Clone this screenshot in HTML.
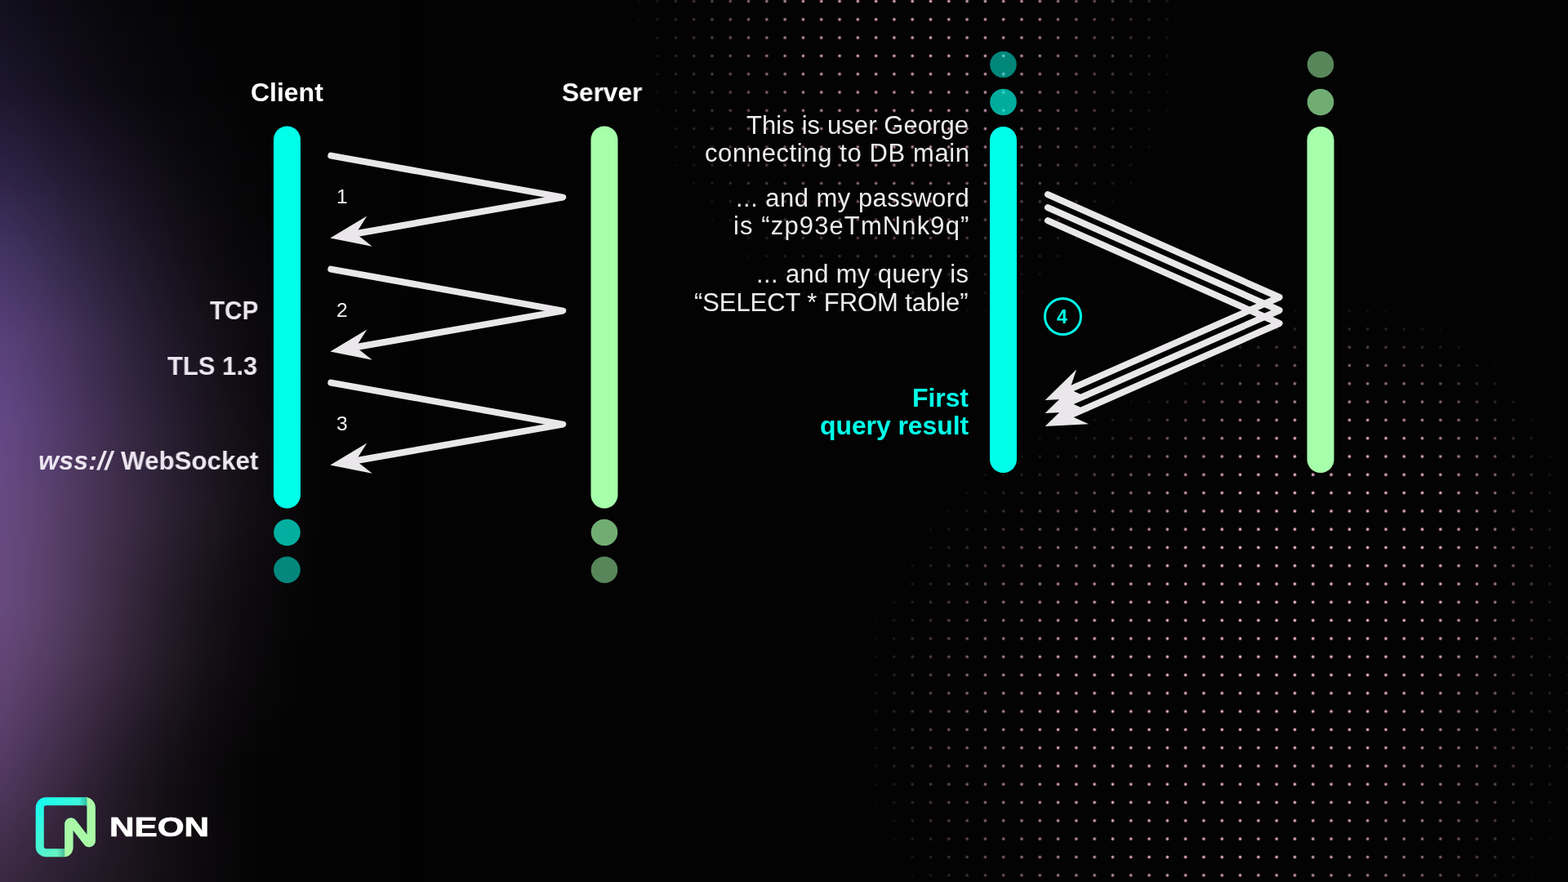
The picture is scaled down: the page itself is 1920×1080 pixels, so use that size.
<!DOCTYPE html>
<html lang="en">
<head>
<meta charset="utf-8">
<title>Neon – connection round trips</title>
<style>
html,body{margin:0;padding:0;background:#030303;}
body{width:1920px;height:1080px;overflow:hidden;position:relative;font-family:"Liberation Sans",sans-serif;}
#stage{position:absolute;left:0;top:0;width:1920px;height:1080px;overflow:hidden;background:#030303;}
#glow{position:absolute;left:-60px;top:-60px;width:560px;height:1200px;filter:blur(9px);}
#glow i{display:block;height:20px;width:560px;}
.dots{position:absolute;inset:0;
  background-image:radial-gradient(circle, rgba(253,224,240,1) 0px, rgba(246,198,224,1) 0.9px, rgba(228,135,185,.55) 1.7px, rgba(205,105,165,0) 2.6px);
  background-size:22.303px 22.303px;background-position:-8.77px -9.61px;}
#dotsA{-webkit-mask-image:radial-gradient(ellipse 345px 400px at 1115px 10px, rgba(0,0,0,.9) 0%, rgba(0,0,0,.78) 40%, rgba(0,0,0,.32) 72%, rgba(0,0,0,0) 100%);mask-image:radial-gradient(ellipse 345px 400px at 1115px 10px, rgba(0,0,0,.9) 0%, rgba(0,0,0,.78) 40%, rgba(0,0,0,.32) 72%, rgba(0,0,0,0) 100%);}
#dotsB{-webkit-mask-image:radial-gradient(ellipse 450px 410px at 1495px 875px, rgba(0,0,0,.95) 0%, rgba(0,0,0,.9) 45%, rgba(0,0,0,.55) 70%, rgba(0,0,0,.2) 87%, rgba(0,0,0,0) 100%),radial-gradient(ellipse 285px 285px at 1640px 650px, rgba(0,0,0,.95) 0%, rgba(0,0,0,.9) 45%, rgba(0,0,0,.55) 70%, rgba(0,0,0,.2) 87%, rgba(0,0,0,0) 100%);mask-image:radial-gradient(ellipse 450px 410px at 1495px 875px, rgba(0,0,0,.95) 0%, rgba(0,0,0,.9) 45%, rgba(0,0,0,.55) 70%, rgba(0,0,0,.2) 87%, rgba(0,0,0,0) 100%),radial-gradient(ellipse 285px 285px at 1640px 650px, rgba(0,0,0,.95) 0%, rgba(0,0,0,.9) 45%, rgba(0,0,0,.55) 70%, rgba(0,0,0,.2) 87%, rgba(0,0,0,0) 100%);}
svg#art{position:absolute;left:0;top:0;}
.t{position:absolute;white-space:nowrap;line-height:1;margin:0;will-change:transform;}
.r{text-align:right;}
.b{font-weight:bold;}
.lab{color:#ece6f0;font-size:32px;font-weight:bold;}
.msg{color:#ececec;font-size:31px;}
.num{color:#f4f4f4;font-size:24.5px;}
.cy{color:#00ffe8;}
</style>
</head>
<body>
<div id="stage">
  <div id="glow"><i style="background:linear-gradient(90deg,rgb(18,15,30) 60px,rgb(14,12,23) 110px,rgb(10,9,15) 160px,rgb(7,6,10) 210px,rgb(5,5,6) 260px,rgb(4,4,5) 310px,rgb(3,3,3) 360px,rgb(3,3,3) 410px,rgb(3,3,3) 460px)"></i><i style="background:linear-gradient(90deg,rgb(18,15,30) 60px,rgb(14,12,23) 110px,rgb(10,9,15) 160px,rgb(7,6,10) 210px,rgb(5,5,6) 260px,rgb(4,4,5) 310px,rgb(3,3,3) 360px,rgb(3,3,3) 410px,rgb(3,3,3) 460px)"></i><i style="background:linear-gradient(90deg,rgb(18,15,30) 60px,rgb(14,12,23) 110px,rgb(10,9,15) 160px,rgb(7,6,10) 210px,rgb(5,5,6) 260px,rgb(4,4,5) 310px,rgb(3,3,3) 360px,rgb(3,3,3) 410px,rgb(3,3,3) 460px)"></i><i style="background:linear-gradient(90deg,rgb(19,16,31) 60px,rgb(15,12,24) 110px,rgb(11,9,16) 160px,rgb(7,7,10) 210px,rgb(5,5,7) 260px,rgb(4,4,5) 310px,rgb(3,3,3) 360px,rgb(3,3,3) 410px,rgb(3,3,3) 460px)"></i><i style="background:linear-gradient(90deg,rgb(21,17,34) 60px,rgb(16,13,26) 110px,rgb(12,10,18) 160px,rgb(8,7,12) 210px,rgb(6,5,7) 260px,rgb(4,4,5) 310px,rgb(3,3,3) 360px,rgb(3,3,3) 410px,rgb(3,3,3) 460px)"></i><i style="background:linear-gradient(90deg,rgb(23,18,37) 60px,rgb(18,15,28) 110px,rgb(13,11,19) 160px,rgb(9,8,13) 210px,rgb(6,5,8) 260px,rgb(4,4,5) 310px,rgb(3,3,4) 360px,rgb(3,3,3) 410px,rgb(3,3,3) 460px)"></i><i style="background:linear-gradient(90deg,rgb(24,20,40) 60px,rgb(19,16,30) 110px,rgb(14,11,21) 160px,rgb(10,8,14) 210px,rgb(6,6,8) 260px,rgb(5,4,6) 310px,rgb(4,4,4) 360px,rgb(3,3,3) 410px,rgb(3,3,3) 460px)"></i><i style="background:linear-gradient(90deg,rgb(26,21,42) 60px,rgb(21,17,32) 110px,rgb(15,12,23) 160px,rgb(10,9,15) 210px,rgb(7,6,9) 260px,rgb(5,4,6) 310px,rgb(4,4,4) 360px,rgb(3,3,3) 410px,rgb(3,3,3) 460px)"></i><i style="background:linear-gradient(90deg,rgb(28,22,45) 60px,rgb(22,18,34) 110px,rgb(16,13,24) 160px,rgb(11,9,16) 210px,rgb(7,6,9) 260px,rgb(5,5,6) 310px,rgb(4,4,5) 360px,rgb(3,3,3) 410px,rgb(3,3,3) 460px)"></i><i style="background:linear-gradient(90deg,rgb(31,25,50) 60px,rgb(25,20,39) 110px,rgb(19,15,29) 160px,rgb(13,11,19) 210px,rgb(9,7,12) 260px,rgb(6,5,7) 310px,rgb(4,4,5) 360px,rgb(3,3,3) 410px,rgb(3,3,3) 460px)"></i><i style="background:linear-gradient(90deg,rgb(35,27,55) 60px,rgb(28,22,44) 110px,rgb(22,17,33) 160px,rgb(15,13,23) 210px,rgb(10,9,14) 260px,rgb(7,6,8) 310px,rgb(4,4,5) 360px,rgb(3,3,4) 410px,rgb(3,3,3) 460px)"></i><i style="background:linear-gradient(90deg,rgb(38,30,60) 60px,rgb(32,25,49) 110px,rgb(24,19,37) 160px,rgb(18,14,26) 210px,rgb(12,10,16) 260px,rgb(7,6,10) 310px,rgb(5,4,5) 360px,rgb(4,3,4) 410px,rgb(3,3,3) 460px)"></i><i style="background:linear-gradient(90deg,rgb(42,32,65) 60px,rgb(35,27,54) 110px,rgb(27,22,41) 160px,rgb(20,16,29) 210px,rgb(13,11,19) 260px,rgb(8,7,11) 310px,rgb(5,4,6) 360px,rgb(4,4,4) 410px,rgb(3,3,3) 460px)"></i><i style="background:linear-gradient(90deg,rgb(45,35,70) 60px,rgb(38,30,58) 110px,rgb(30,24,45) 160px,rgb(22,18,32) 210px,rgb(15,12,21) 260px,rgb(9,8,12) 310px,rgb(5,5,6) 360px,rgb(4,4,4) 410px,rgb(3,3,3) 460px)"></i><i style="background:linear-gradient(90deg,rgb(50,38,77) 60px,rgb(42,33,64) 110px,rgb(33,26,49) 160px,rgb(25,20,35) 210px,rgb(17,14,23) 260px,rgb(10,9,13) 310px,rgb(6,5,7) 360px,rgb(4,4,5) 410px,rgb(3,3,3) 460px)"></i><i style="background:linear-gradient(90deg,rgb(54,42,83) 60px,rgb(46,36,69) 110px,rgb(36,29,53) 160px,rgb(27,22,39) 210px,rgb(19,15,26) 260px,rgb(11,10,15) 310px,rgb(6,6,7) 360px,rgb(4,4,5) 410px,rgb(3,3,3) 460px)"></i><i style="background:linear-gradient(90deg,rgb(59,45,89) 60px,rgb(50,39,74) 110px,rgb(40,31,57) 160px,rgb(30,24,42) 210px,rgb(20,16,28) 260px,rgb(13,10,17) 310px,rgb(7,6,8) 360px,rgb(5,4,5) 410px,rgb(3,3,3) 460px)"></i><i style="background:linear-gradient(90deg,rgb(63,48,94) 60px,rgb(54,42,79) 110px,rgb(43,33,61) 160px,rgb(32,26,45) 210px,rgb(22,18,30) 260px,rgb(14,11,18) 310px,rgb(7,6,9) 360px,rgb(5,4,5) 410px,rgb(3,3,3) 460px)"></i><i style="background:linear-gradient(90deg,rgb(68,52,100) 60px,rgb(58,45,84) 110px,rgb(46,36,65) 160px,rgb(35,27,48) 210px,rgb(24,19,32) 260px,rgb(15,12,19) 310px,rgb(8,7,10) 360px,rgb(5,5,6) 410px,rgb(3,3,3) 460px)"></i><i style="background:linear-gradient(90deg,rgb(72,54,105) 60px,rgb(62,47,88) 110px,rgb(49,38,69) 160px,rgb(38,29,51) 210px,rgb(26,21,35) 260px,rgb(16,13,21) 310px,rgb(9,8,11) 360px,rgb(5,5,6) 410px,rgb(3,3,3) 460px)"></i><i style="background:linear-gradient(90deg,rgb(76,57,109) 60px,rgb(66,50,92) 110px,rgb(53,40,73) 160px,rgb(40,31,54) 210px,rgb(28,22,37) 260px,rgb(18,14,23) 310px,rgb(10,8,12) 360px,rgb(6,5,7) 410px,rgb(3,3,3) 460px)"></i><i style="background:linear-gradient(90deg,rgb(80,59,114) 60px,rgb(69,52,97) 110px,rgb(56,42,77) 160px,rgb(43,33,57) 210px,rgb(30,23,39) 260px,rgb(19,15,24) 310px,rgb(11,9,13) 360px,rgb(6,5,7) 410px,rgb(3,3,3) 460px)"></i><i style="background:linear-gradient(90deg,rgb(84,62,118) 60px,rgb(73,54,101) 110px,rgb(60,45,80) 160px,rgb(45,34,60) 210px,rgb(32,25,41) 260px,rgb(21,16,26) 310px,rgb(12,10,14) 360px,rgb(7,6,7) 410px,rgb(3,3,3) 460px)"></i><i style="background:linear-gradient(90deg,rgb(88,64,122) 60px,rgb(77,57,105) 110px,rgb(63,47,84) 160px,rgb(48,36,63) 210px,rgb(34,26,43) 260px,rgb(22,17,27) 310px,rgb(13,10,16) 360px,rgb(7,6,8) 410px,rgb(3,3,3) 460px)"></i><i style="background:linear-gradient(90deg,rgb(90,66,125) 60px,rgb(79,58,107) 110px,rgb(65,48,86) 160px,rgb(50,37,64) 210px,rgb(36,27,45) 260px,rgb(23,18,29) 310px,rgb(14,11,16) 360px,rgb(7,6,8) 410px,rgb(3,3,3) 460px)"></i><i style="background:linear-gradient(90deg,rgb(93,67,127) 60px,rgb(81,59,109) 110px,rgb(66,49,88) 160px,rgb(51,38,66) 210px,rgb(37,28,47) 260px,rgb(24,19,30) 310px,rgb(15,12,17) 360px,rgb(8,7,9) 410px,rgb(3,3,3) 460px)"></i><i style="background:linear-gradient(90deg,rgb(95,69,130) 60px,rgb(83,61,112) 110px,rgb(68,50,89) 160px,rgb(53,39,68) 210px,rgb(39,29,48) 260px,rgb(25,20,31) 310px,rgb(15,12,18) 360px,rgb(8,7,9) 410px,rgb(3,3,3) 460px)"></i><i style="background:linear-gradient(90deg,rgb(97,70,132) 60px,rgb(85,62,114) 110px,rgb(70,51,91) 160px,rgb(54,40,69) 210px,rgb(40,30,50) 260px,rgb(27,20,32) 310px,rgb(16,13,19) 360px,rgb(9,7,10) 410px,rgb(3,3,3) 460px)"></i><i style="background:linear-gradient(90deg,rgb(99,72,134) 60px,rgb(87,63,116) 110px,rgb(72,52,93) 160px,rgb(56,41,71) 210px,rgb(42,31,52) 260px,rgb(28,21,34) 310px,rgb(17,13,20) 360px,rgb(9,7,10) 410px,rgb(3,3,3) 460px)"></i><i style="background:linear-gradient(90deg,rgb(101,72,134) 60px,rgb(89,64,116) 110px,rgb(73,53,93) 160px,rgb(57,42,71) 210px,rgb(43,32,52) 260px,rgb(29,22,34) 310px,rgb(17,14,20) 360px,rgb(9,8,10) 410px,rgb(3,3,3) 460px)"></i><i style="background:linear-gradient(90deg,rgb(101,72,133) 60px,rgb(89,64,115) 110px,rgb(74,54,93) 160px,rgb(58,42,71) 210px,rgb(43,32,52) 260px,rgb(29,22,35) 310px,rgb(18,14,21) 360px,rgb(9,8,10) 410px,rgb(3,3,3) 460px)"></i><i style="background:linear-gradient(90deg,rgb(102,73,133) 60px,rgb(90,65,115) 110px,rgb(75,54,93) 160px,rgb(59,43,72) 210px,rgb(44,33,53) 260px,rgb(30,23,35) 310px,rgb(19,14,21) 360px,rgb(10,8,10) 410px,rgb(3,3,3) 460px)"></i><i style="background:linear-gradient(90deg,rgb(103,73,132) 60px,rgb(91,65,114) 110px,rgb(76,55,93) 160px,rgb(60,44,72) 210px,rgb(45,33,53) 260px,rgb(31,23,35) 310px,rgb(19,15,21) 360px,rgb(10,8,10) 410px,rgb(3,3,3) 460px)"></i><i style="background:linear-gradient(90deg,rgb(104,74,131) 60px,rgb(92,66,113) 110px,rgb(77,55,93) 160px,rgb(61,44,72) 210px,rgb(46,34,53) 260px,rgb(32,24,36) 310px,rgb(20,15,22) 360px,rgb(10,8,11) 410px,rgb(3,3,3) 460px)"></i><i style="background:linear-gradient(90deg,rgb(104,74,130) 60px,rgb(92,66,113) 110px,rgb(77,55,92) 160px,rgb(61,44,71) 210px,rgb(45,34,52) 260px,rgb(31,24,35) 310px,rgb(19,15,21) 360px,rgb(10,8,10) 410px,rgb(3,3,3) 460px)"></i><i style="background:linear-gradient(90deg,rgb(104,74,130) 60px,rgb(92,66,112) 110px,rgb(76,55,91) 160px,rgb(60,44,70) 210px,rgb(44,33,50) 260px,rgb(30,23,33) 310px,rgb(18,14,20) 360px,rgb(9,8,10) 410px,rgb(3,3,3) 460px)"></i><i style="background:linear-gradient(90deg,rgb(104,74,129) 60px,rgb(92,66,111) 110px,rgb(76,55,90) 160px,rgb(59,43,68) 210px,rgb(43,32,49) 260px,rgb(29,22,32) 310px,rgb(17,13,18) 360px,rgb(9,7,9) 410px,rgb(3,3,3) 460px)"></i><i style="background:linear-gradient(90deg,rgb(105,74,129) 60px,rgb(92,66,111) 110px,rgb(76,55,89) 160px,rgb(58,42,67) 210px,rgb(42,31,47) 260px,rgb(27,21,30) 310px,rgb(16,12,17) 360px,rgb(8,7,9) 410px,rgb(3,3,3) 460px)"></i><i style="background:linear-gradient(90deg,rgb(105,74,128) 60px,rgb(92,66,110) 110px,rgb(76,54,89) 160px,rgb(57,42,66) 210px,rgb(41,30,46) 260px,rgb(26,20,28) 310px,rgb(15,12,16) 360px,rgb(8,6,8) 410px,rgb(3,3,3) 460px)"></i><i style="background:linear-gradient(90deg,rgb(105,74,128) 60px,rgb(92,66,110) 110px,rgb(75,54,88) 160px,rgb(56,41,64) 210px,rgb(40,29,44) 260px,rgb(25,19,27) 310px,rgb(14,11,14) 360px,rgb(7,6,7) 410px,rgb(3,3,3) 460px)"></i><i style="background:linear-gradient(90deg,rgb(104,74,126) 60px,rgb(91,65,108) 110px,rgb(74,54,86) 160px,rgb(56,41,63) 210px,rgb(39,29,43) 260px,rgb(24,18,26) 310px,rgb(13,10,14) 360px,rgb(7,6,7) 410px,rgb(3,3,3) 460px)"></i><i style="background:linear-gradient(90deg,rgb(103,72,124) 60px,rgb(90,64,106) 110px,rgb(73,53,84) 160px,rgb(55,40,62) 210px,rgb(38,28,42) 260px,rgb(23,18,25) 310px,rgb(13,10,13) 360px,rgb(7,6,7) 410px,rgb(3,3,3) 460px)"></i><i style="background:linear-gradient(90deg,rgb(101,71,121) 60px,rgb(88,63,103) 110px,rgb(72,52,82) 160px,rgb(54,39,60) 210px,rgb(38,28,41) 260px,rgb(23,17,24) 310px,rgb(12,10,13) 360px,rgb(6,5,6) 410px,rgb(3,3,3) 460px)"></i><i style="background:linear-gradient(90deg,rgb(100,70,118) 60px,rgb(87,61,101) 110px,rgb(71,51,81) 160px,rgb(53,38,59) 210px,rgb(37,27,40) 260px,rgb(22,17,23) 310px,rgb(12,9,12) 360px,rgb(6,5,6) 410px,rgb(3,3,3) 460px)"></i><i style="background:linear-gradient(90deg,rgb(98,68,116) 60px,rgb(84,59,98) 110px,rgb(68,48,77) 160px,rgb(50,36,56) 210px,rgb(35,25,37) 260px,rgb(20,15,21) 310px,rgb(11,9,11) 360px,rgb(6,5,6) 410px,rgb(3,3,3) 460px)"></i><i style="background:linear-gradient(90deg,rgb(96,66,114) 60px,rgb(82,57,95) 110px,rgb(65,46,74) 160px,rgb(48,34,53) 210px,rgb(32,24,35) 260px,rgb(18,14,20) 310px,rgb(10,8,10) 360px,rgb(5,5,5) 410px,rgb(3,3,3) 460px)"></i><i style="background:linear-gradient(90deg,rgb(93,65,111) 60px,rgb(79,55,92) 110px,rgb(62,44,71) 160px,rgb(45,32,50) 210px,rgb(30,22,32) 260px,rgb(17,13,18) 310px,rgb(9,7,9) 360px,rgb(5,4,5) 410px,rgb(3,3,3) 460px)"></i><i style="background:linear-gradient(90deg,rgb(91,63,109) 60px,rgb(76,53,89) 110px,rgb(59,42,68) 160px,rgb(42,30,47) 210px,rgb(27,20,30) 260px,rgb(15,11,16) 310px,rgb(8,6,8) 360px,rgb(4,4,4) 410px,rgb(3,3,3) 460px)"></i><i style="background:linear-gradient(90deg,rgb(88,61,105) 60px,rgb(73,51,86) 110px,rgb(56,40,64) 160px,rgb(40,28,44) 210px,rgb(25,18,27) 260px,rgb(14,10,14) 310px,rgb(7,6,7) 360px,rgb(4,4,4) 410px,rgb(3,3,3) 460px)"></i><i style="background:linear-gradient(90deg,rgb(85,59,101) 60px,rgb(70,49,81) 110px,rgb(54,38,61) 160px,rgb(37,27,41) 210px,rgb(23,17,25) 260px,rgb(12,10,13) 310px,rgb(6,5,6) 360px,rgb(4,3,4) 410px,rgb(3,3,3) 460px)"></i><i style="background:linear-gradient(90deg,rgb(82,56,97) 60px,rgb(67,47,77) 110px,rgb(50,36,57) 160px,rgb(34,25,38) 210px,rgb(21,16,23) 260px,rgb(12,9,12) 310px,rgb(5,5,5) 360px,rgb(3,3,3) 410px,rgb(3,3,3) 460px)"></i><i style="background:linear-gradient(90deg,rgb(78,54,92) 60px,rgb(64,45,73) 110px,rgb(48,34,54) 160px,rgb(33,24,36) 210px,rgb(20,15,21) 260px,rgb(11,9,12) 310px,rgb(5,5,5) 360px,rgb(3,3,3) 410px,rgb(3,3,3) 460px)"></i><i style="background:linear-gradient(90deg,rgb(74,52,87) 60px,rgb(61,43,70) 110px,rgb(46,33,52) 160px,rgb(32,23,35) 210px,rgb(20,15,21) 260px,rgb(11,9,12) 310px,rgb(5,5,5) 360px,rgb(3,3,3) 410px,rgb(3,3,3) 460px)"></i><i style="background:linear-gradient(90deg,rgb(70,49,82) 60px,rgb(58,41,66) 110px,rgb(45,32,50) 160px,rgb(31,23,34) 210px,rgb(20,15,21) 260px,rgb(12,9,12) 310px,rgb(6,5,6) 360px,rgb(3,3,3) 410px,rgb(3,3,3) 460px)"></i><i style="background:linear-gradient(90deg,rgb(66,46,77) 60px,rgb(55,39,63) 110px,rgb(43,31,48) 160px,rgb(31,22,33) 210px,rgb(20,15,21) 260px,rgb(12,9,12) 310px,rgb(6,5,6) 360px,rgb(3,3,3) 410px,rgb(3,3,3) 460px)"></i><i style="background:linear-gradient(90deg,rgb(62,44,72) 60px,rgb(52,37,59) 110px,rgb(41,30,46) 160px,rgb(30,22,33) 210px,rgb(20,15,21) 260px,rgb(12,9,12) 310px,rgb(6,5,6) 360px,rgb(3,3,3) 410px,rgb(3,3,3) 460px)"></i><i style="background:linear-gradient(90deg,rgb(58,41,67) 60px,rgb(49,35,55) 110px,rgb(38,28,43) 160px,rgb(28,21,30) 210px,rgb(19,14,20) 260px,rgb(11,9,12) 310px,rgb(6,5,6) 360px,rgb(3,3,3) 410px,rgb(3,3,3) 460px)"></i><i style="background:linear-gradient(90deg,rgb(56,40,65) 60px,rgb(47,34,53) 110px,rgb(37,27,41) 160px,rgb(27,20,29) 210px,rgb(18,14,19) 260px,rgb(11,9,11) 310px,rgb(6,5,6) 360px,rgb(3,3,3) 410px,rgb(3,3,3) 460px)"></i><i style="background:linear-gradient(90deg,rgb(56,40,65) 60px,rgb(47,34,53) 110px,rgb(37,27,41) 160px,rgb(27,20,29) 210px,rgb(18,14,19) 260px,rgb(11,9,11) 310px,rgb(6,5,6) 360px,rgb(3,3,3) 410px,rgb(3,3,3) 460px)"></i><i style="background:linear-gradient(90deg,rgb(56,40,65) 60px,rgb(47,34,53) 110px,rgb(37,27,41) 160px,rgb(27,20,29) 210px,rgb(18,14,19) 260px,rgb(11,9,11) 310px,rgb(6,5,6) 360px,rgb(3,3,3) 410px,rgb(3,3,3) 460px)"></i></div>
  <div class="dots" id="dotsA"></div>
  <div class="dots" id="dotsB"></div>

  <svg id="art" width="1920" height="1080" viewBox="0 0 1920 1080">
    <defs>
      <polygon id="head" points="0,0 49,-18.8 32,0 49,18.8"/>
      <polygon id="head3" points="0,0 50.5,-19 33,0 50,19"/>
      <linearGradient id="lg" gradientUnits="userSpaceOnUse" x1="2" y1="2" x2="30" y2="36">
        <stop offset="0" stop-color="#16fbf0"/>
        <stop offset=".55" stop-color="#4ff5d0"/>
        <stop offset="1" stop-color="#8cf5b0"/>
      </linearGradient>
      <linearGradient id="sh1" gradientUnits="userSpaceOnUse" x1="26" y1="0" x2="31.04" y2="0">
        <stop offset="0" stop-color="#1a6b5c" stop-opacity="0"/>
        <stop offset="1" stop-color="#1a6b5c" stop-opacity=".42"/>
      </linearGradient>
      <linearGradient id="sh2" gradientUnits="userSpaceOnUse" x1="12.6" y1="0" x2="17.57" y2="0">
        <stop offset="0" stop-color="#1a6b5c" stop-opacity="0"/>
        <stop offset="1" stop-color="#1a6b5c" stop-opacity=".42"/>
      </linearGradient>
    </defs>
    <!-- lifelines -->
    <g stroke-linecap="round" stroke-width="33" fill="none">
      <line x1="351.5" y1="171" x2="351.5" y2="606" stroke="#00ffe8"/>
      <line x1="740" y1="171" x2="740" y2="606" stroke="#a6ffaa"/>
      <line x1="1228.5" y1="171.5" x2="1228.5" y2="562.5" stroke="#00ffe8"/>
      <line x1="1617" y1="171.5" x2="1617" y2="562.5" stroke="#a6ffaa"/>
    </g>
    <g>
      <circle cx="351.5" cy="652" r="16.3" fill="#00ffe8" opacity=".68"/>
      <circle cx="351.5" cy="697.8" r="16.3" fill="#00ffe8" opacity=".52"/>
      <circle cx="740" cy="652" r="16.3" fill="#a6ffaa" opacity=".68"/>
      <circle cx="740" cy="697.8" r="16.3" fill="#a6ffaa" opacity=".52"/>
      <circle cx="1228.5" cy="125" r="16.3" fill="#00ffe8" opacity=".68"/>
      <circle cx="1228.5" cy="79" r="16.3" fill="#00ffe8" opacity=".52"/>
      <circle cx="1617" cy="125" r="16.3" fill="#a6ffaa" opacity=".68"/>
      <circle cx="1617" cy="79" r="16.3" fill="#a6ffaa" opacity=".52"/>
    </g>
    <!-- round trips -->
    <g id="trips" transform="translate(0.3,0.6)" fill="#e9e7e9" stroke="#e9e7e9" stroke-width="8" stroke-linecap="round" stroke-linejoin="round">
      <g id="rt1">
        <polyline points="405,190 689,241 436,285.4" fill="none"/>
        <use href="#head" transform="translate(404,291) rotate(-9.95)" stroke="none"/>
      </g>
      <g transform="translate(0,139)">
        <polyline points="405,190 689,241 436,285.4" fill="none"/>
        <use href="#head" transform="translate(404,291) rotate(-9.95)" stroke="none"/>
      </g>
      <g transform="translate(0,278)">
        <polyline points="405,190 689,241 436,285.4" fill="none"/>
        <use href="#head" transform="translate(404,291) rotate(-9.95)" stroke="none"/>
      </g>
      <g id="tri">
        <polyline points="1282.7,237.5 1566.3,363.4 1311,475.6" fill="none"/>
        <use href="#head3" transform="translate(1279.4,489.5) rotate(-23.8)" stroke="none"/>
      </g>
      <g transform="translate(0,16)">
        <polyline points="1282.7,237.5 1566.3,363.4 1311,475.6" fill="none"/>
        <use href="#head3" transform="translate(1279.4,489.5) rotate(-23.8)" stroke="none"/>
      </g>
      <g transform="translate(0,32)">
        <polyline points="1282.7,237.5 1566.3,363.4 1311,475.6" fill="none"/>
        <use href="#head3" transform="translate(1279.4,489.5) rotate(-23.8)" stroke="none"/>
      </g>
    </g>
    <circle cx="1301.5" cy="387.6" r="22" fill="none" stroke="#00ffe8" stroke-width="3"/>
    <!-- logo mark -->
    <g transform="translate(43.7,976.3) scale(2.0278)">
      <path fill-rule="evenodd" clip-rule="evenodd" fill="url(#lg)" d="M0 6.207A6.207 6.207 0 0 1 6.207 0h23.586A6.207 6.207 0 0 1 36 6.207v20.06c0 3.546-4.488 5.085-6.664 2.286l-6.805-8.754v10.615A5.586 5.586 0 0 1 16.945 36H6.207A6.207 6.207 0 0 1 0 29.793V6.207Zm6.207-1.241c-.686 0-1.241.555-1.241 1.241v23.586c0 .686.555 1.242 1.241 1.242h10.924c.343 0 .435-.278.435-.621V16.18c0-3.547 4.488-5.086 6.665-2.286l6.805 8.753V6.207c0-.686.064-1.241-.621-1.241H6.207Z"/>
      <rect x="26" y="0" width="5.04" height="4.97" fill="url(#sh1)"/>
      <rect x="12.6" y="31.03" width="4.97" height="4.97" fill="url(#sh2)"/>
      <path fill="#aaf9a6" d="M29.793 0A6.207 6.207 0 0 1 36 6.207v20.06c0 3.546-4.488 5.085-6.664 2.286l-6.805-8.754v10.615A5.586 5.586 0 0 1 16.945 36a.62.62 0 0 0 .62-.62V16.18c0-3.547 4.489-5.086 6.666-2.286l6.804 8.753V1.241C31.035.556 30.479 0 29.793 0Z"/>
    </g>
  </svg>

  <div class="t lab" id="tClient" style="left:306.8px;top:96.5px;letter-spacing:-0.02px;color:#fff;">Client</div>
  <div class="t lab" id="tServer" style="left:688.0px;top:96.5px;transform-origin:0 50%;transform:scaleX(0.985);color:#fff;">Server</div>

  <div class="t lab" id="tTcp" style="left:256.8px;top:363.9px;transform-origin:0 50%;transform:scaleX(0.925);">TCP</div>
  <div class="t lab" id="tTls" style="left:205.3px;top:431.8px;transform-origin:0 50%;transform:scaleX(0.968);">TLS 1.3</div>
  <div class="t lab" id="tWss1" style="left:46.8px;top:547.6px;letter-spacing:0.27px;font-style:italic;">wss://</div>
  <div class="t lab" id="tWss2" style="left:147.5px;top:547.6px;transform-origin:0 50%;transform:scaleX(0.979);">WebSocket</div>

  <div class="t num" id="n1" style="left:412.1px;top:228.9px;font-size:24.5px;">1</div>
  <div class="t num" id="n2" style="left:412.0px;top:368.0px;font-size:24.5px;">2</div>
  <div class="t num" id="n3" style="left:411.6px;top:507.3px;font-size:24.5px;">3</div>

  <div class="t msg" id="m1" style="left:914.4px;top:138.2px;letter-spacing:0.09px;">This is user George</div>
  <div class="t msg" id="m2" style="left:862.7px;top:172.3px;letter-spacing:0.61px;">connecting to DB main</div>
  <div class="t msg" id="m3" style="left:900.9px;top:227.2px;letter-spacing:0.47px;">... and my password</div>
  <div class="t msg" id="m4" style="left:897.5px;top:261.3px;letter-spacing:1.12px;">is “zp93eTmNnk9q”</div>
  <div class="t msg" id="m5" style="left:925.9px;top:320.4px;letter-spacing:0.37px;">... and my query is</div>
  <div class="t msg" id="m6" style="left:850.3px;top:354.8px;letter-spacing:-0.08px;">“SELECT * FROM table”</div>

  <div class="t lab cy" id="tFirst" style="left:1117.1px;top:471.3px;letter-spacing:-0.08px;">First</div>
  <div class="t lab cy" id="tQuery" style="left:1004.0px;top:505.4px;letter-spacing:-0.1px;">query result</div>

  <div class="t b cy" id="n4" style="left:1294.2px;top:376.6px;font-size:23.4px;">4</div>

  <div class="t b" id="neon" style="left:134.3px;top:996.5px;transform-origin:0 50%;transform:scaleX(1.309);font-size:32.3px;color:#fff;-webkit-text-stroke:0.7px #fff;">NEON</div>
</div>
</body>
</html>
